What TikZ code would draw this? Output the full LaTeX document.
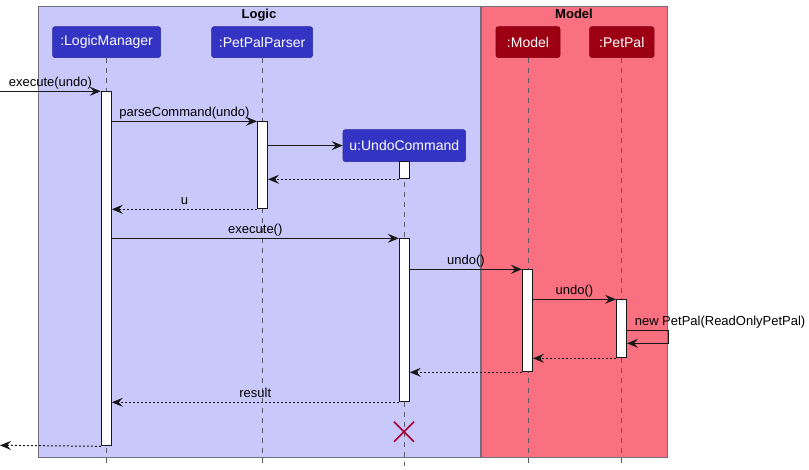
\documentclass[tikz,border=0pt]{standalone}
\usepackage{fontspec}
\setmainfont{Liberation Sans}
\usetikzlibrary{arrows.meta}
\definecolor{logicfill}{HTML}{C8C8FA}
\definecolor{modelfill}{HTML}{F97181}
\definecolor{logicpart}{HTML}{3333C4}
\definecolor{modelpart}{HTML}{9D0012}
\definecolor{framec}{HTML}{6F6F7F}
\definecolor{linec}{HTML}{181818}
\definecolor{lifec}{HTML}{5A5A66}
\definecolor{destroyc}{HTML}{A80036}
\begin{document}
\begin{tikzpicture}[x=1pt,y=-1pt,
  frame/.style={draw=framec, line width=1pt},
  frametitle/.style={font=\fontsize{13}{15}\selectfont\bfseries, anchor=base, inner sep=0pt},
  part/.style={draw=#1!80!black, line width=0.6pt, fill=#1, rounded corners=2.5pt, text=white,
    font=\fontsize{14}{16}\selectfont, minimum height=31pt, inner sep=0pt, anchor=north west},
  life/.style={draw=lifec, line width=0.8pt, dash pattern=on 5pt off 5pt},
  act/.style={draw=linec, fill=white, line width=1pt, minimum width=10pt, inner sep=0pt, anchor=north},
  msg/.style={draw=linec, line width=1pt, -{Stealth[length=11pt,width=9pt,inset=4pt]}},
  ret/.style={msg, dash pattern=on 2pt off 2pt},
  lbl/.style={font=\fontsize{13}{15}\selectfont, anchor=base, inner sep=0pt, yshift=5pt, text=black},
  destroy/.style={draw=destroyc, line width=1.6pt}
]
\useasboundingbox (0,0) rectangle (809,469);
% frames
\fill[logicfill] (38.5,6) rectangle (480,457);
\draw[frame] (38.5,6) rectangle (480,457);
\fill[modelfill] (481.3,6) rectangle (667.3,457);
\draw[frame] (481.3,6) rectangle (667.3,457);
\node[frametitle] (tLogic) at (259,18.5) {Logic};
\node[frametitle] (tModel) at (574,18.5) {Model};
% participants
\node[part=logicpart, minimum width=108pt] (LM) at (52.3,26.3) {:LogicManager};
\node[part=logicpart, minimum width=101pt] (PP) at (211.3,26.3) {:PetPalParser};
\node[part=logicpart, minimum width=122.6pt, minimum height=32pt] (UC) at (342.7,129.3) {u:UndoCommand};
\node[part=modelpart, minimum width=64pt] (M) at (495.7,26.3) {:Model};
\node[part=modelpart, minimum width=64.4pt] (P) at (589.3,26.3) {:PetPal};
\coordinate (endl) at (0,466);
% lifelines
\draw[life] (LM.south) -- (LM.south |- endl);
\draw[life] (PP.south) -- (PP.south |- endl);
\draw[life] (UC.south) -- (UC.south |- endl);
\draw[life] (M.south) -- (M.south |- endl);
\draw[life] (P.south) -- (P.south |- endl);
% activations
\node[act, minimum height=354pt] (aLM) at (106.3,91.3) {};
\node[act, minimum height=87pt] (aPP) at (262.5,121.3) {};
\node[act, minimum height=17pt] (aUC1) at (404.3,161.3) {};
\node[act, minimum height=163pt] (aUC2) at (404.3,238.3) {};
\node[act, minimum height=102pt] (aM) at (527.5,269.3) {};
\node[act, minimum height=58pt] (aP) at (621.5,299.3) {};
% free ends
\coordinate (inL) at (0,91.3);
\coordinate (outL) at (0,445.3);
\coordinate (self1) at (668.3,330);
\coordinate (self2) at (668.3,343.3);
% messages
\draw[msg] (inL) -- (aLM.north west) node[lbl, midway] {execute(undo)};
\draw[msg] (aLM.east |- aPP.north) -- (aPP.north west) node[lbl, midway] {parseCommand(undo)};
\draw[msg] (aPP.east |- UC.west) -- (UC.west);
\draw[ret] (aUC1.south west) -- (aPP.east |- aUC1.south);
\draw[ret] (aPP.south west) -- (aLM.east |- aPP.south) node[lbl, midway] {u};
\draw[msg] (aLM.east |- aUC2.north) -- (aUC2.north west) node[lbl, midway] {execute()};
\draw[msg] (aUC2.east |- aM.north) -- (aM.north west) node[lbl, midway] {undo()};
\draw[msg] (aM.east |- aP.north) -- (aP.north west) node[lbl, midway] {undo()};
\draw[msg] (aP.east |- self1) -- (self1) -- (self2) -- (aP.east |- self2);
\node[lbl, anchor=base west] (selflbl) at ([xshift=7.6pt]aP.east |- self1) {new PetPal(ReadOnlyPetPal)};
\draw[ret] (aP.south west) -- (aM.east |- aP.south);
\draw[ret] (aM.south west) -- (aUC2.east |- aM.south);
\draw[ret] (aUC2.south west) -- (aLM.east |- aUC2.south) node[lbl, midway] {result};
\draw[ret] (aLM.south west) -- (outL);
% destroy
\coordinate (X) at (404,431.7);
\draw[destroy] ([shift={(-10,-10)}]X) -- ([shift={(10,10)}]X);
\draw[destroy] ([shift={(-10,10)}]X) -- ([shift={(10,-10)}]X);
\end{tikzpicture}
\end{document}
